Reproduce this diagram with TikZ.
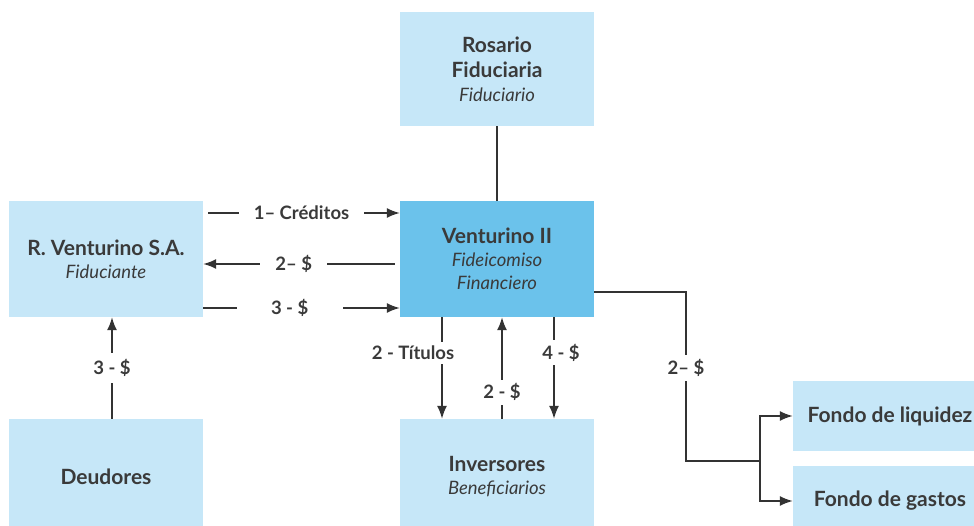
\documentclass[tikz,border=0pt]{standalone}
\usepackage{fontspec}
\setmainfont{Lato}
\usepackage{xcolor}
\usetikzlibrary{arrows.meta, calc, positioning}
\definecolor{lightbox}{HTML}{C6E7F8}
\definecolor{darkbox}{HTML}{6BC2EB}
\definecolor{inkgray}{HTML}{3A3A3A}
\definecolor{linegray}{HTML}{333333}
\tikzset{
    boxnode/.style = {rectangle, draw=none, fill=lightbox, minimum width=194pt, minimum height=116pt,
      inner sep=0pt, node distance=0em, text=inkgray, font=\fontsize{21}{25}\selectfont\bfseries},
    darkboxnode/.style = {boxnode, fill=darkbox},
    fondonode/.style = {boxnode, minimum height=70pt},
    labelnode/.style = {fill=white, inner xsep=15pt, inner ysep=4pt, text=inkgray,
      font=\fontsize{18.5}{20}\selectfont\bfseries},
    plain/.style = {linegray, line width=1.6pt},
    connect/.style = {plain, -{Latex[length=13pt, width=10pt]}},
    every text node part/.style={align=center}
}
\newcommand{\subt}[1]{{\fontsize{18.5}{22}\selectfont\mdseries\itshape #1}}

\begin{document}
\begin{tikzpicture}[x=1pt, y=-1pt]
    \clip (0,0) rectangle (974,526);

    \node [name=fid, darkboxnode] at (497,259) {Venturino II\\[-2pt]\subt{Fideicomiso}\\[-2pt]\subt{Financiero}};
    \node [name=ros, boxnode, minimum height=114pt, above of = fid, yshift=190pt]
        {Rosario\\[0pt]Fiduciaria\\[-1pt]\subt{Fiduciario}};
    \node [name=rv, boxnode, left of = fid, xshift=-391pt] {R. Venturino S.A.\\[-2pt]\subt{Fiduciante}};
    \node [name=deu, boxnode, below of = rv, yshift=-218pt] {Deudores};
    \node [name=inv, boxnode, below of = fid, yshift=-218pt] {Inversores\\[-2pt]\subt{Beneficiarios}};

    \node [name=liq, fondonode] at (890,416) {Fondo de liquidez};
    \node [name=gas, fondonode, below of = liq, yshift=-85pt] {Fondo de gastos};

    \coordinate (bend) at (686,461);
    \coordinate (split) at (760,461);

    \draw [plain] (ros) -- (fid);

    \draw [connect, shorten <=5pt] ([yshift=46pt]rv.east) -- node[labelnode]{1– Créditos} ([yshift=46pt]fid.west);
    \draw [connect, shorten <=5pt] ([yshift=-5pt]fid.west) -- node[labelnode, pos=0.54]{2– \$} ([yshift=-5pt]rv.east);
    \draw [connect] ([yshift=-49pt]rv.east) -- node[labelnode, pos=0.44, minimum width=106pt]{3 - \$} ([yshift=-49pt]fid.west);

    \draw [connect] ([xshift=6pt]deu.north) -- node[labelnode, inner ysep=6pt]{3 - \$} ([xshift=6pt]rv.south);

    \draw [connect] ([xshift=-55pt]fid.south) -- node[labelnode, pos=0.35, xshift=-29pt]{2 - Títulos} ([xshift=-55pt]inv.north);
    \draw [connect] ([xshift=5pt]inv.north) -- node[labelnode, pos=0.26]{2 - \$} ([xshift=5pt]fid.south);
    \draw [connect] ([xshift=57pt]fid.south) -- node[labelnode, pos=0.35, xshift=7pt]{4 - \$} ([xshift=57pt]inv.north);

    \draw [plain] ([yshift=-33pt]fid.east) -| node[labelnode, pos=0.725, inner xsep=2pt]{2– \$} (bend) -- (split);
    \draw [connect] (split) |- (liq);
    \draw [connect] (split) |- (gas);
\end{tikzpicture}
\end{document}
